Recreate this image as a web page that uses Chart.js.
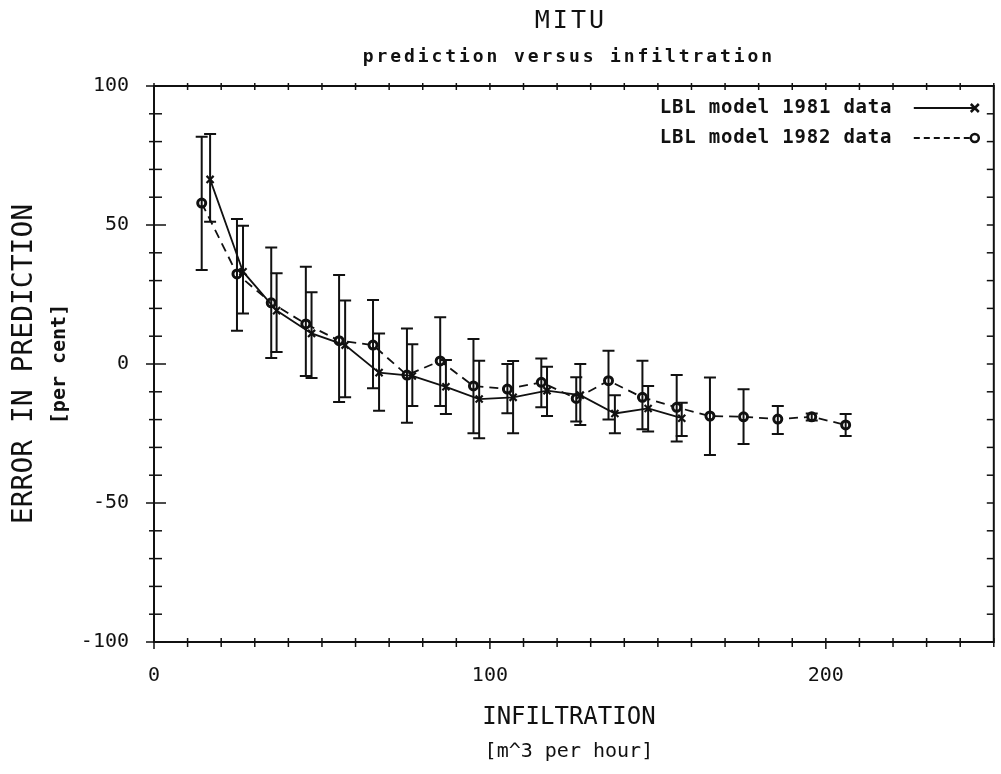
<!DOCTYPE html>
<html>
<head>
<meta charset="utf-8">
<title>MITU</title>
<script src="https://cdn.jsdelivr.net/npm/chart.js@4.4.1/dist/chart.umd.min.js"></script>
<style>
  html, body { margin: 0; padding: 0; background: #fff; overflow: hidden; }
  #wrap { width: 1001px; height: 774px; position: relative; }
</style>
</head>
<body>
<div id="wrap"><canvas id="mitu-chart"></canvas></div>
<script>
// infiltration (m^3/h) and prediction error (%) with error bar ends
const infil81 = [16.7, 26.5, 36.5, 46.9, 56.9, 67.0, 76.9, 86.9, 96.8, 106.9, 117.0, 126.9, 137.2, 147.1, 157.1];
const err81 = [66.4, 33.2, 19.2, 11.0, 6.8, -3.1, -4.3, -8.2, -12.6, -12.0, -9.6, -11.2, -17.8, -16.0, -19.5];
const low81 = [51.2, 18.2, 4.3, -5.0, -12.0, -16.8, -15.1, -18.0, -26.7, -24.9, -18.7, -21.9, -24.9, -24.3, -25.9];
const high81 = [82.7, 49.7, 32.6, 25.8, 22.8, 11.0, 7.1, 1.4, 1.2, 1.1, -1.0, 0.0, -11.2, -7.9, -13.9];

const infil82 = [14.2, 24.7, 34.9, 45.2, 55.1, 65.2, 75.3, 85.2, 95.1, 105.2, 115.3, 125.7, 135.3, 145.4, 155.6, 165.5, 175.5, 185.7, 195.8, 205.9];
const err82 = [57.9, 32.4, 22.0, 14.4, 8.4, 6.8, -4.0, 1.1, -7.9, -9.0, -6.6, -12.4, -6.0, -12.0, -15.6, -18.7, -19.0, -19.8, -19.0, -21.9];
const low82 = [33.8, 12.0, 2.2, -4.3, -13.7, -8.7, -21.1, -15.1, -24.9, -17.7, -15.6, -20.7, -20.0, -23.5, -27.9, -32.7, -28.8, -25.2, -20.3, -25.9];
const high82 = [81.7, 52.2, 41.9, 35.0, 32.0, 23.0, 12.8, 16.8, 9.0, 0.0, 2.0, -4.8, 4.8, 1.2, -4.0, -4.9, -9.1, -15.1, -17.8, -18.0];

const xTickLabels = [0, 100, 200];
const yTickLabels = [-100, -50, 0, 50, 100];
const seriesNames = ["LBL model 1981 data", "LBL model 1982 data"];

const ink = "#111";
const mono = "'DejaVu Sans Mono', monospace";

const toPoints = (xs, ys) => xs.map((v, i) => ({ x: v, y: ys[i] }));

// vertical error bars with flat caps
const errorBars = {
  id: "errorBars",
  afterDatasetsDraw(chart) {
    const { ctx, scales: { x, y } } = chart;
    ctx.save();
    ctx.strokeStyle = ink;
    ctx.lineWidth = 2;
    chart.data.datasets.forEach((ds) => {
      ds.data.forEach((p, i) => {
        const px = x.getPixelForValue(p.x);
        const top = y.getPixelForValue(ds.errHigh[i]);
        const bot = y.getPixelForValue(ds.errLow[i]);
        ctx.beginPath();
        ctx.moveTo(px, top); ctx.lineTo(px, bot);
        ctx.moveTo(px - 6, top); ctx.lineTo(px + 6, top);
        ctx.moveTo(px - 6, bot); ctx.lineTo(px + 6, bot);
        ctx.stroke();
      });
    });
    ctx.restore();
  }
};

// box frame with cross ticks on every side
const frameTicks = {
  id: "frameTicks",
  afterDraw(chart) {
    const { ctx, chartArea: a, scales: { x, y } } = chart;
    const seg = (x1, y1, x2, y2) => { ctx.beginPath(); ctx.moveTo(x1, y1); ctx.lineTo(x2, y2); ctx.stroke(); };
    ctx.save();
    ctx.strokeStyle = ink;
    ctx.lineWidth = 2;
    ctx.strokeRect(a.left, a.top, a.right - a.left, a.bottom - a.top);
    ctx.lineWidth = 1.5;
    x.ticks.forEach((t) => {
      const px = x.getPixelForValue(t.value);
      const major = xTickLabels.includes(t.value);
      seg(px, a.bottom - 4, px, a.bottom + (major ? 7 : 5));
      seg(px, a.top - 3, px, a.top + 4);
    });
    y.ticks.forEach((t) => {
      const py = y.getPixelForValue(t.value);
      const major = yTickLabels.includes(t.value);
      seg(a.left - (major ? 8 : 5), py, a.left + (major ? 12 : 8), py);
      seg(a.right - 7, py, a.right, py);
    });
    ctx.restore();
  }
};

// titles, axis titles and the legend box
const annotations = {
  id: "annotations",
  afterDraw(chart) {
    const { ctx, chartArea: a } = chart;
    const cx = (a.left + a.right) / 2;
    const cy = (a.top + a.bottom) / 2;
    const text = (str, x, y, font, spacing, align) => {
      ctx.font = font;
      ctx.letterSpacing = spacing || "0px";
      ctx.textAlign = align || "center";
      ctx.fillText(str, x, y);
    };
    ctx.save();
    ctx.fillStyle = ink;
    ctx.textBaseline = "middle";

    text("MITU", cx - 3, 21, "25px " + mono, "3px");
    text("prediction versus infiltration", cx - 5, 57, "bold 18px " + mono, "2.9px");

    text("INFILTRATION", cx - 5, 718, "24px " + mono, "0px");
    text("[m^3 per hour]", cx - 5, 752, "20px " + mono, "0px");

    ctx.save();
    ctx.translate(25, cy);
    ctx.rotate(-Math.PI / 2);
    text("ERROR IN PREDICTION", 0, 0, "28px " + mono, "0px");
    ctx.restore();
    ctx.save();
    ctx.translate(60, cy);
    ctx.rotate(-Math.PI / 2);
    text("[per cent]", 0, 0, "bold 20px " + mono, "0px");
    ctx.restore();

    // legend rows: label then line sample with marker at its end
    const rows = [
      { y: a.top + 22, dash: [], style: "cross" },
      { y: a.top + 52, dash: [6, 4], style: "circle" }
    ];
    rows.forEach((r, i) => {
      text(seriesNames[i], a.right - 334, r.y, "bold 19px " + mono, "0.8px", "left");
      const x1 = a.right - 80, x2 = a.right - 19;
      ctx.strokeStyle = ink;
      ctx.lineWidth = 1.8;
      ctx.setLineDash(r.dash);
      ctx.beginPath(); ctx.moveTo(x1, r.y); ctx.lineTo(x2, r.y); ctx.stroke();
      ctx.setLineDash([]);
      ctx.lineWidth = 2.5;
      if (r.style === "cross") {
        ctx.beginPath();
        ctx.moveTo(x2 - 4, r.y - 4); ctx.lineTo(x2 + 4, r.y + 4);
        ctx.moveTo(x2 - 4, r.y + 4); ctx.lineTo(x2 + 4, r.y - 4);
        ctx.stroke();
      } else {
        ctx.fillStyle = "#fff";
        ctx.beginPath(); ctx.arc(x2, r.y, 4, 0, Math.PI * 2); ctx.fill(); ctx.stroke();
        ctx.fillStyle = ink;
      }
    });
    ctx.restore();
  }
};

const ctx = document.getElementById("mitu-chart").getContext("2d");
new Chart(ctx, {
  type: "line",
  data: {
    datasets: [
      {
        label: seriesNames[0],
        data: toPoints(infil81, err81),
        errLow: low81,
        errHigh: high81,
        borderColor: ink,
        borderWidth: 1.8,
        pointStyle: "crossRot",
        pointRadius: 5,
        pointBorderWidth: 2.2,
        pointBorderColor: ink,
        tension: 0
      },
      {
        label: seriesNames[1],
        data: toPoints(infil82, err82),
        errLow: low82,
        errHigh: high82,
        borderColor: ink,
        borderWidth: 1.8,
        borderDash: [9, 6],
        pointStyle: "circle",
        pointRadius: 4,
        pointBorderWidth: 3,
        pointBorderColor: ink,
        pointBackgroundColor: "#fff",
        tension: 0
      }
    ]
  },
  options: {
    responsive: true,
    maintainAspectRatio: false,
    animation: false,
    layout: { padding: { top: 86, right: 1, left: 0, bottom: 0 } },
    plugins: {
      legend: { display: false },
      tooltip: { enabled: false }
    },
    scales: {
      x: {
        type: "linear",
        min: 0,
        max: 250,
        grid: { display: false },
        border: { display: false },
        afterFit: (s) => { s.height = 132; s.paddingLeft = 0; s.paddingRight = 0; },
        ticks: {
          stepSize: 10,
          autoSkip: false,
          maxRotation: 0,
          padding: 14,
          color: ink,
          font: { family: mono, size: 20 },
          callback: (v) => (xTickLabels.includes(v) ? String(v) : "")
        }
      },
      y: {
        min: -100,
        max: 100,
        grid: { display: false },
        border: { display: false },
        afterFit: (s) => { s.width = 154; s.paddingTop = 0; s.paddingBottom = 0; },
        ticks: {
          stepSize: 10,
          autoSkip: false,
          padding: 17,
          color: ink,
          font: { family: mono, size: 20 },
          callback: (v) => (yTickLabels.includes(v) ? String(v) : "")
        }
      }
    }
  },
  plugins: [errorBars, frameTicks, annotations]
});
</script>
</body>
</html>
